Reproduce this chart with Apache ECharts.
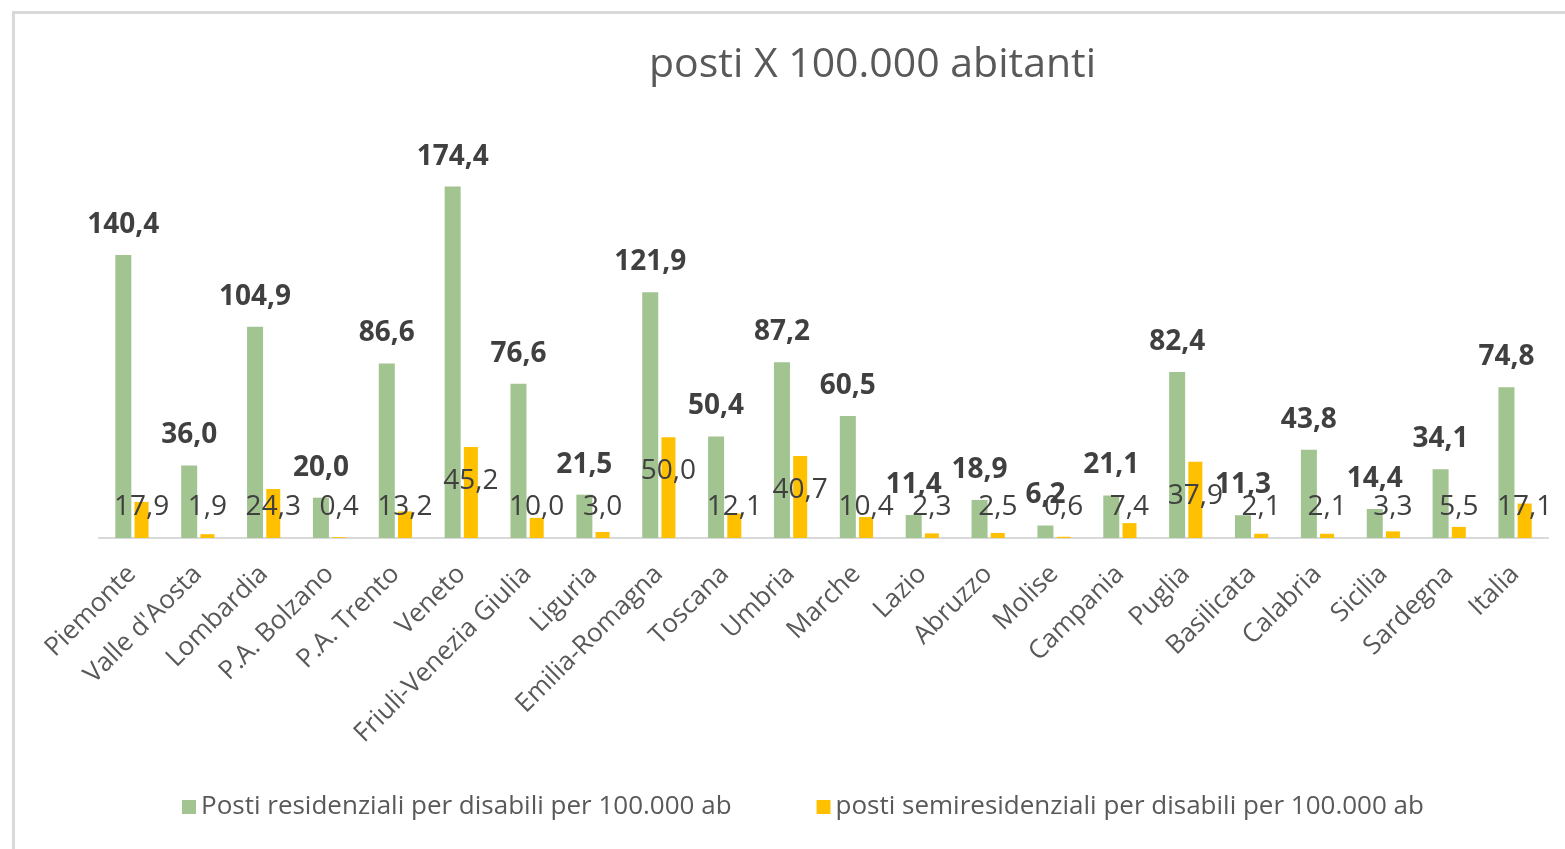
<!DOCTYPE html>
<html>
<head>
<meta charset="utf-8">
<style>
  html, body { margin: 0; padding: 0; background: #fff; }
  #chart { width: 1565px; height: 849px; }
</style>
<script src="https://cdn.jsdelivr.net/npm/echarts@6/dist/echarts.min.js"></script>
</head>
<body>
<div id="chart"></div>
<script>
const regions = ['Piemonte', "Valle d'Aosta", 'Lombardia', 'P.A. Bolzano', 'P.A. Trento', 'Veneto',
  'Friuli-Venezia Giulia', 'Liguria', 'Emilia-Romagna', 'Toscana', 'Umbria', 'Marche', 'Lazio',
  'Abruzzo', 'Molise', 'Campania', 'Puglia', 'Basilicata', 'Calabria', 'Sicilia', 'Sardegna', 'Italia']
const residenziali = [140.4, 36.0, 104.9, 20.0, 86.6, 174.4, 76.6, 21.5, 121.9, 50.4, 87.2, 60.5,
  11.4, 18.9, 6.2, 21.1, 82.4, 11.3, 43.8, 14.4, 34.1, 74.8]
const semiresidenziali = [17.9, 1.9, 24.3, 0.4, 13.2, 45.2, 10.0, 3.0, 50.0, 12.1, 40.7, 10.4,
  2.3, 2.5, 0.6, 7.4, 37.9, 2.1, 2.1, 3.3, 5.5, 17.1]
const seriesNames = ['Posti residenziali per disabili per 100.000 ab', 'posti semiresidenziali per disabili per 100.000 ab']

const FONT = '"Open Sans", sans-serif'
const fmt = v => v.toFixed(1).replace('.', ',')

const chart = echarts.init(document.getElementById('chart'))

// etichette gialle: dentro in alto sulle barre alte, altrimenti ancorate in basso
const semiData = semiresidenziali.map(v => ({
  value: v,
  label: v > 32
    ? { position: 'insideTop', distance: 20 }
    : { position: 'insideBottom', distance: 17 }
}))

const option = {
  animation: false,
  graphic: [{
    type: 'rect',
    shape: { x: 13.5, y: 12.5, width: 1700, height: 1000 },
    style: { fill: 'none', stroke: '#d9d9d9', lineWidth: 3 },
    silent: true
  }],
  title: {
    text: 'posti X 100.000 abitanti',
    left: 644,
    top: 40,
    textStyle: { fontFamily: FONT, fontSize: 41, fontWeight: 'normal', color: '#595959' }
  },
  legend: {
    left: 177,
    top: 789,
    icon: 'rect',
    itemWidth: 14,
    itemHeight: 14,
    itemGap: 85,
    textStyle: { fontFamily: FONT, fontSize: 26, color: '#595959' },
    data: seriesNames
  },
  grid: { left: 99, right: 17, top: 135, bottom: 311, containLabel: false },
  xAxis: {
    type: 'category',
    data: regions,
    axisLine: { lineStyle: { color: '#d9d9d9', width: 2 } },
    axisTick: { show: false },
    axisLabel: {
      rotate: 45,
      interval: 0,
      margin: 32,
      fontFamily: FONT,
      fontSize: 26,
      color: '#595959'
    }
  },
  yAxis: {
    type: 'value',
    min: 0,
    max: 200,
    show: false,
    splitLine: { show: false }
  },
  series: [
    {
      name: seriesNames[0],
      type: 'bar',
      data: residenziali,
      barWidth: 16,
      barGap: '20%',
      itemStyle: { color: '#a1c490' },
      label: {
        show: true,
        position: 'top',
        distance: 16,
        formatter: p => fmt(p.value),
        fontFamily: FONT,
        fontSize: 28,
        fontWeight: 'bold',
        color: '#404040'
      }
    },
    {
      name: seriesNames[1],
      type: 'bar',
      data: semiData,
      barWidth: 14,
      itemStyle: { color: '#ffc000' },
      label: {
        show: true,
        formatter: p => fmt(p.value),
        fontFamily: FONT,
        fontSize: 28,
        color: '#404040'
      }
    }
  ]
}

chart.setOption(option)
window.addEventListener('resize', () => chart.resize())
</script>
</body>
</html>
